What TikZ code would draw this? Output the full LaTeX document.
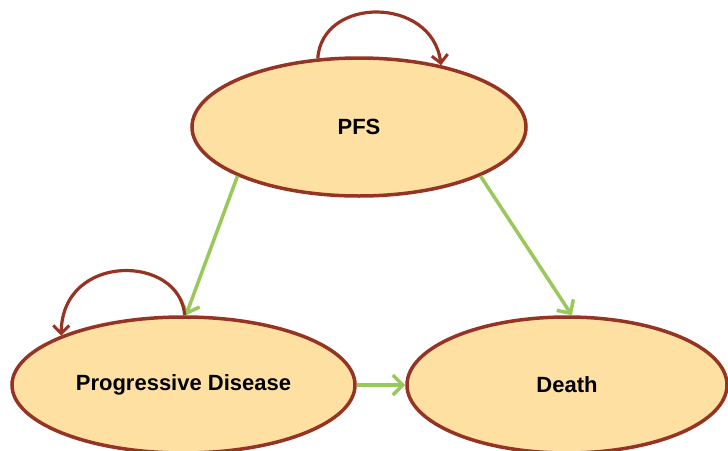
\documentclass[tikz,border=0pt]{standalone}
\usepackage{fontspec}
\setmainfont{Liberation Sans}
\usetikzlibrary{shapes.geometric,arrows.meta}
\definecolor{stfill}{RGB}{253,224,162}
\definecolor{stdraw}{RGB}{150,52,36}
\definecolor{arrgreen}{RGB}{152,201,90}
\tikzset{
  statenode/.style={ellipse, draw=stdraw, fill=stfill, line width=3.5pt, inner sep=0pt,
    font=\fontsize{22}{24}\selectfont\bfseries},
  trans/.style={draw=arrgreen, line width=3.5pt, -{Straight Barb[length=10pt,width=20pt,line width=3.5pt]}},
  selfloop/.style={draw=stdraw, line width=3.2pt, -{Straight Barb[length=8pt,width=16pt,line width=3pt]}}
}
\begin{document}
\begin{tikzpicture}[x=1pt,y=-1pt]
\useasboundingbox (0,0) rectangle (728,450);
\node[statenode, minimum width=334pt, minimum height=138pt] (pfs) at (359,127) {PFS};
\node[statenode, minimum width=343pt, minimum height=136pt] (pd) at (183.5,385) {Progressive Disease};
\node[statenode, minimum width=320pt, minimum height=136pt] (death) at (567,385) {Death};
\draw[trans] (pfs.202.5) -- (pd.88);
\draw[trans] (pfs.-22.5) -- (death.86);
\draw[trans] (pd.east) -- (death.west);
\draw[selfloop] (pfs.121.5) .. controls (322,-4) and (432,-4) .. (pfs.37);
\draw[selfloop] (pd.89) .. controls (180,254) and (62,252) .. (pd.158.4);
\end{tikzpicture}
\end{document}
